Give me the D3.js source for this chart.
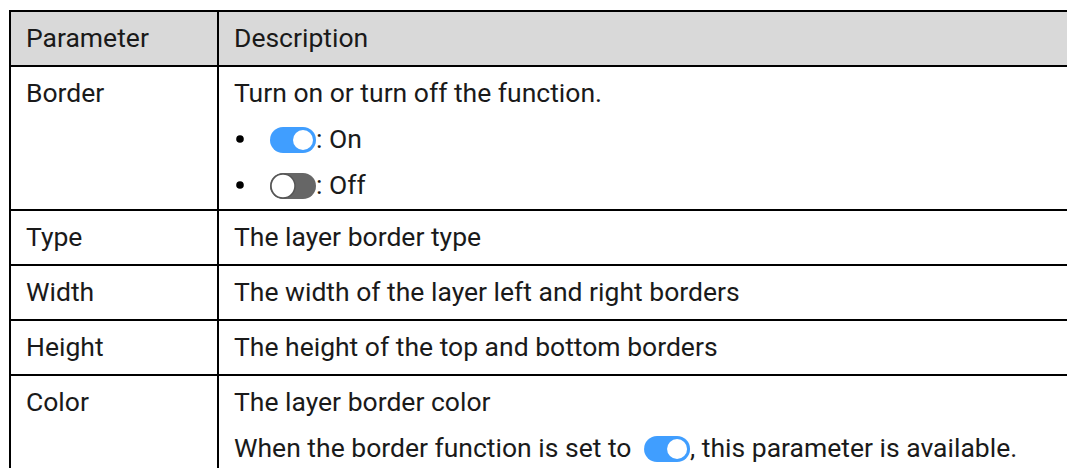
<!DOCTYPE html>
<html><head><meta charset="utf-8">
<script src="https://cdn.jsdelivr.net/npm/d3@7"></script>
<style>html,body{margin:0;padding:0;background:#fff;overflow:hidden}</style>
</head><body>
<svg id="c" width="1067" height="468"></svg>
<script>
const headers = ["Parameter", "Description"];
const parameters = ["Border", "Type", "Width", "Height", "Color"];
const descriptions = [
  [ {bullet:false, segs:[{t:"Turn on or turn off the function."}]},
    {bullet:true, segs:[{toggle:"on"},{t:": On"}]},
    {bullet:true, segs:[{toggle:"off"},{t:": Off"}]} ],
  [ {bullet:false, segs:[{t:"The layer border type"}]} ],
  [ {bullet:false, segs:[{t:"The width of the layer left and right borders"}]} ],
  [ {bullet:false, segs:[{t:"The height of the top and bottom borders"}]} ],
  [ {bullet:false, segs:[{t:"The layer border color"}]},
    {bullet:false, segs:[{t:"When the border function is set to "},{toggle:"on"},{t:", this parameter is available."}]} ]
];

const svg = d3.select("#c");
const FS = 26.5, LH = 46, PADTOP = 36, PADX = 16;
const x0 = 10, xDiv = 218, xEnd = 1080, y0 = 11, headH = 55, singleH = 55;
const font = "Roboto, 'Noto Sans', sans-serif";
const txtColor = "#1a1a1a";

const rows = [{h: headH}].concat(descriptions.map((d, i) => ({h: d.length === 1 ? singleH : (i === descriptions.length - 1 ? 140 : 144)})));
let acc = y0;
rows.forEach(r => { r.y = acc; acc += r.h; });

const g = svg.append("g");
g.append("rect").attr("x", x0).attr("y", y0).attr("width", xEnd - x0).attr("height", headH).attr("fill", "#d9d9d9");

function drawToggle(sel, x, baseline, state) {
  const w = 46, h = 26, ty = baseline - 21;
  if (state === "on") {
    sel.append("rect").attr("x", x).attr("y", ty).attr("width", w).attr("height", h).attr("rx", h/2).attr("fill", "#409eff");
    sel.append("circle").attr("cx", x + w - h/2).attr("cy", ty + h/2).attr("r", h/2 - 3).attr("fill", "#fff");
  } else {
    sel.append("rect").attr("x", x).attr("y", ty).attr("width", w).attr("height", h).attr("rx", h/2).attr("fill", "#666");
    sel.append("circle").attr("cx", x + h/2).attr("cy", ty + h/2).attr("r", h/2 - 1).attr("fill", "#fff").attr("stroke", "#555").attr("stroke-width", 1.5);
  }
  return w;
}

function drawText(sel, x, y, t) {
  const n = sel.append("text").attr("x", x).attr("y", y).attr("font-family", font).attr("font-size", FS).attr("fill", txtColor).style("white-space","pre").text(t);
  return n.node().getComputedTextLength();
}

drawText(g, x0 + PADX, y0 + PADTOP, headers[0]);
drawText(g, xDiv + PADX, y0 + PADTOP, headers[1]);

parameters.forEach((p, i) => {
  const r = rows[i+1];
  drawText(g, x0 + PADX, r.y + PADTOP, p);
  descriptions[i].forEach((line, j) => {
    const by = r.y + PADTOP + j*LH;
    let x = xDiv + PADX;
    if (line.bullet) {
      g.append("circle").attr("cx", x + 6).attr("cy", by - 9).attr("r", 3.8).attr("fill", "#000");
      x = xDiv + 52;
    }
    line.segs.forEach(s => {
      if (s.toggle) { x += drawToggle(g, x, by, s.toggle); }
      else {
        x += drawText(g, x, by, s.t) + (s.t.endsWith(" ") ? 6 : 0);
      }
    });
  });
});

const lines = g.append("g").attr("stroke", "#000").attr("stroke-width", 2);
lines.append("line").attr("x1", x0).attr("x2", xEnd).attr("y1", y0).attr("y2", y0);
rows.forEach(r => {
  lines.append("line").attr("x1", x0).attr("x2", xEnd).attr("y1", r.y + r.h).attr("y2", r.y + r.h);
});
lines.append("line").attr("x1", x0).attr("x2", x0).attr("y1", y0 - 1).attr("y2", 500);
lines.append("line").attr("x1", xDiv).attr("x2", xDiv).attr("y1", y0 - 1).attr("y2", 500);
</script>
</body></html>
